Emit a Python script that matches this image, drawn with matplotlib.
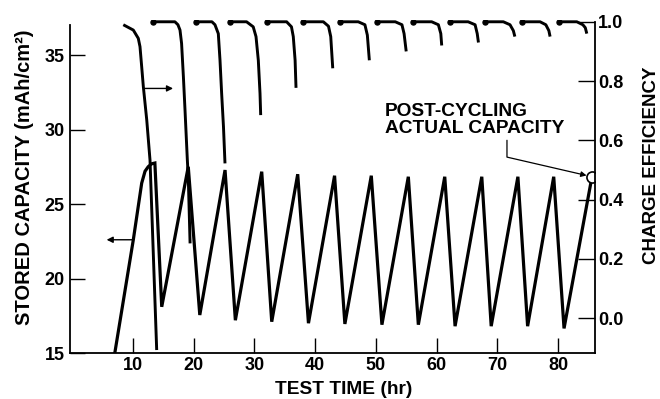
import matplotlib
matplotlib.use("Agg")
import matplotlib.pyplot as plt

plt.rcParams['font.family'] = ['Liberation Sans', 'DejaVu Sans']
plt.rcParams['font.weight'] = 'bold'

# ---- data ----
# stored capacity (left axis, mAh/cm^2) vs test time (hr)
cap_t = [7.0, 10.05, 11.43, 11.98, 12.5, 13.08, 13.6, 14.73,
         19.1, 21.0, 25.16, 26.86, 31.2, 32.85, 37.13, 38.9,
         43.2, 44.9, 49.25, 51.0, 55.35, 57.0, 61.35, 63.05,
         67.45, 69.0, 73.4, 75.0, 79.3, 81.0, 85.6]
cap_v = [15.0, 22.6, 26.4, 27.2, 27.5, 27.7, 27.75, 18.1,
         27.5, 17.55, 27.28, 17.2, 27.17, 17.1, 27.0, 17.0,
         26.9, 16.95, 26.9, 16.9, 26.83, 16.9, 26.83, 16.8,
         26.83, 16.8, 26.83, 16.8, 26.83, 16.65, 26.83]

# charge efficiency (right axis) per cycle
eff_t = [
    [8.40, 10.05, 10.87, 11.15, 11.43, 11.70, 12.26, 12.80, 13.9],
    [13.35, 16.9, 17.4, 17.74, 18.0, 18.3, 18.57, 18.95, 19.1, 19.4],
    [20.3, 23.0, 23.5, 24.05, 24.33, 24.6, 24.9, 25.15],
    [26.0, 28.7, 29.8, 30.26, 30.64, 30.92, 31.03],
    [32.0, 35.3, 36.1, 36.4, 36.7, 36.85],
    [38.05, 41.35, 42.2, 42.57, 42.9],
    [44.1, 47.1, 48.2, 48.6, 48.93],
    [50.15, 53.2, 54.3, 54.65, 55.0],
    [56.2, 59.2, 60.3, 60.7, 60.85],
    [62.2, 65.2, 66.35, 66.7, 66.9],
    [68.0, 71.0, 72.1, 72.65, 72.9],
    [74.0, 77.05, 78.0, 78.5, 78.7],
    [80.2, 83.1, 84.1, 84.5, 84.75],
]
eff_v = [
    [0.99, 0.972, 0.944, 0.916, 0.848, 0.781, 0.669, 0.533, -0.108],
    [1.0, 1.0, 0.99, 0.972, 0.927, 0.814, 0.70, 0.533, 0.477, 0.252],
    [1.0, 1.0, 0.99, 0.96, 0.87, 0.758, 0.646, 0.522],
    [1.0, 1.0, 0.983, 0.95, 0.87, 0.758, 0.685],
    [1.0, 1.0, 0.983, 0.95, 0.87, 0.777],
    [1.0, 1.0, 0.985, 0.95, 0.843],
    [1.0, 1.0, 0.99, 0.955, 0.87],
    [1.0, 1.0, 0.99, 0.96, 0.90],
    [1.0, 1.0, 0.99, 0.96, 0.92],
    [1.0, 1.0, 0.99, 0.96, 0.93],
    [1.0, 1.0, 0.99, 0.97, 0.95],
    [1.0, 1.0, 0.99, 0.97, 0.95],
    [1.0, 1.0, 0.99, 0.98, 0.96],
]

x_ticks = [10, 20, 30, 40, 50, 60, 70, 80]
cap_ticks = [15, 20, 25, 30, 35]
eff_ticks = [0.0, 0.2, 0.4, 0.6, 0.8, 1.0]

post_cycling_t = 85.6
post_cycling_eff = 0.477

# ---- figure ----
fig = plt.figure(figsize=(6.6, 3.99), dpi=100)
ax = fig.add_axes([70 / 660, 1 - 353 / 399, 525 / 660, 333 / 399])
ax2 = ax.twinx()

ax.set_xlim(-0.38, 86.1)
ax.set_ylim(15, 37.35)
ax2.set_ylim(-0.118, 1.006)

# stored capacity sawtooth
ax.plot(cap_t, cap_v, color='black', lw=2.3, solid_joinstyle='miter', zorder=3)

# efficiency curves
for i, (tt, vv) in enumerate(zip(eff_t, eff_v)):
    ax2.plot(tt, vv, color='black', lw=2.1, solid_capstyle='butt', zorder=3)
    if i > 0:
        ax2.plot(tt[0], vv[0], 'o', color='black', ms=3.6, zorder=4)

# post-cycling point
ax.plot(cap_t[-1], cap_v[-1], 'o', mfc='white', mec='black', ms=8, mew=1.2, zorder=6)

# axis-pointer arrows
ax2.annotate('', xy=(16.6, 0.775), xytext=(11.9, 0.775),
             arrowprops=dict(arrowstyle='-|>', lw=1.0, color='black',
                             mutation_scale=9, shrinkA=0, shrinkB=0))
ax.annotate('', xy=(5.65, 22.6), xytext=(10.05, 22.6),
            arrowprops=dict(arrowstyle='-|>', lw=1.0, color='black',
                            mutation_scale=9, shrinkA=0, shrinkB=0))

# annotation
ax2.text(51.5, 0.668, "POST-CYCLING\nACTUAL CAPACITY", ha='left', va='center',
         fontsize=13.8, fontweight='bold', linespacing=1.0)
ax2.annotate('', xy=(post_cycling_t, post_cycling_eff), xytext=(71.6, 0.60),
             arrowprops=dict(arrowstyle='-|>', lw=0.9, color='black',
                             mutation_scale=8, shrinkA=0, shrinkB=4,
                             connectionstyle='angle,angleA=90,angleB=-13,rad=0'))

# spines
for s in ['top', 'right']:
    ax.spines[s].set_visible(False)
for s in ['top', 'left', 'bottom']:
    ax2.spines[s].set_visible(False)
ax.spines['left'].set_bounds(15, 37.0)
ax2.spines['right'].set_bounds(-0.118, 1.0)
ax.spines['left'].set_linewidth(1.3)
ax.spines['bottom'].set_linewidth(1.3)
ax2.spines['right'].set_linewidth(1.3)

# ticks
ax.set_xticks(x_ticks)
ax.set_yticks(cap_ticks)
ax2.set_yticks(eff_ticks)
ax2.set_yticklabels([f"{v:.1f}" for v in eff_ticks])
ax.tick_params(axis='x', direction='in', length=11, width=1, labelsize=13, pad=3.0)
ax.tick_params(axis='y', direction='in', length=11, width=1, labelsize=13, pad=4.0)
ax2.tick_params(axis='y', direction='in', length=12, width=1, labelsize=13, pad=2.0)

# axis labels
fig.text(344 / 660, 1 - 389 / 399, 'TEST TIME (hr)', ha='center', va='center',
         fontsize=13.8, fontweight='bold')
fig.text(25 / 660, 1 - 177 / 399, 'STORED CAPACITY (mAh/cm\u00b2)', rotation=90,
         ha='center', va='center', fontsize=14.5, fontweight='bold')
fig.text(651 / 660, 1 - 165 / 399, 'CHARGE EFFICIENCY', rotation=90,
         ha='center', va='center', fontsize=13.5, fontweight='bold')

fig.savefig('out.png', dpi=100)
